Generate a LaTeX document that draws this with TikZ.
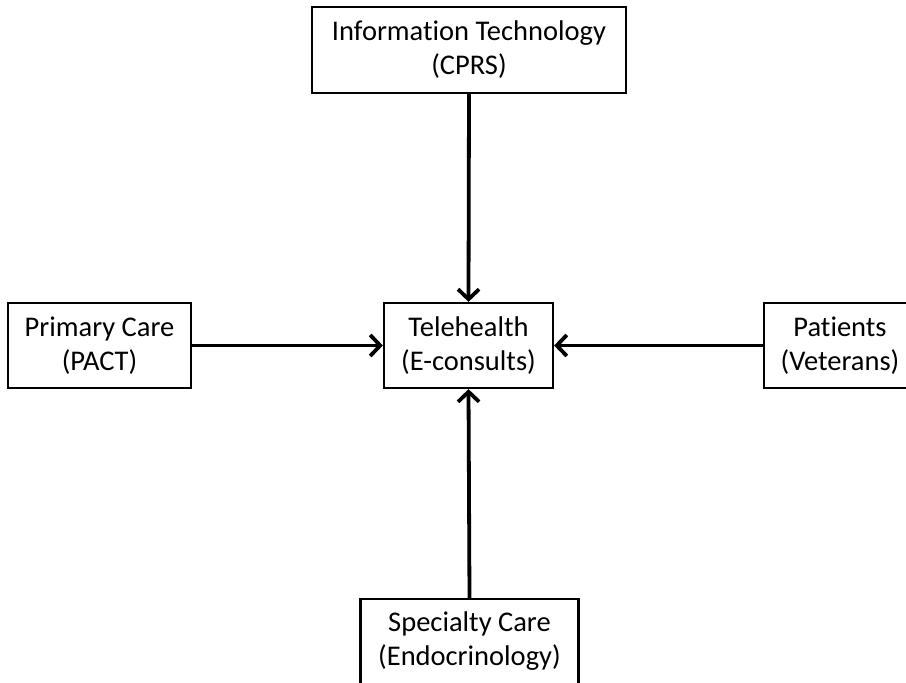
\documentclass[tikz,border=0pt]{standalone}
\usepackage{fontspec}
\setmainfont[Ligatures=NoCommon]{Carlito}
\usetikzlibrary{arrows.meta}
\begin{document}
\begin{tikzpicture}[x=1pt,y=-1pt,
  box/.style={draw=black,line width=2.3pt,fill=white,inner sep=0pt,align=center,
    font=\fontsize{28.5}{34}\selectfont},
  conn/.style={line width=3.8pt,-{Straight Barb[length=10pt,width=21pt,line width=3.8pt]}}]
\useasboundingbox (0,0) rectangle (906,683);
\clip (0,0) rectangle (906,683);
\node[box,minimum width=314pt,minimum height=86pt] (it) at (469,50) {\rule{0pt}{4pt}Information Technology\\(CPRS)};
\node[box,minimum width=169pt,minimum height=85pt] (tele) at (468.5,345.5) {Telehealth\\(E-consults)};
\node[box,minimum width=183pt,minimum height=85pt] (pc) at (99.5,345.5) {Primary Care\\(PACT)};
\node[box,minimum width=152pt,minimum height=85pt] (pat) at (840,345.5) {Patients\\(Veterans)};
\node[box,minimum width=218pt,minimum height=85pt] (sc) at (469.5,641.5) {Specialty Care\\(Endocrinology)};
\draw[conn] (it.south) -- (tele.north);
\draw[conn] (pc.east) -- (tele.west);
\draw[conn] (pat.west) -- (tele.east);
\draw[conn] (sc.north) -- (tele.south);
\end{tikzpicture}
\end{document}
